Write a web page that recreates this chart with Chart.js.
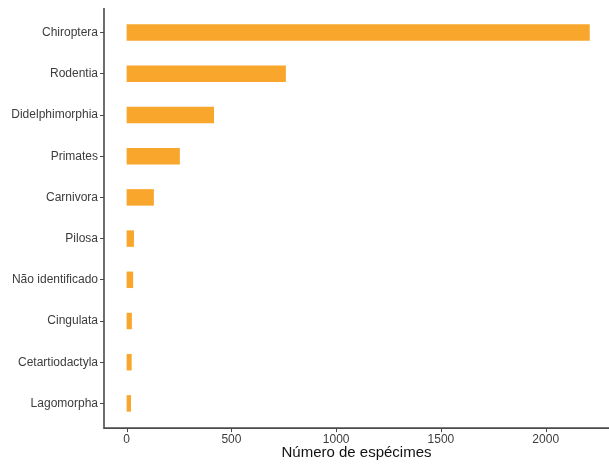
<!DOCTYPE html>
<html>
<head>
<meta charset="utf-8">
<script src="https://cdn.jsdelivr.net/npm/chart.js@4/dist/chart.umd.min.js"></script>
<style>
  html, body { margin: 0; padding: 0; background: #fff; }
  #wrap { width: 609px; height: 464px; }
</style>
</head>
<body>
<div id="wrap"><canvas id="myChart"></canvas></div>
<script>
// Dados
const categories = [
  "Chiroptera",
  "Rodentia",
  "Didelphimorphia",
  "Primates",
  "Carnivora",
  "Pilosa",
  "Não identificado",
  "Cingulata",
  "Cetartiodactyla",
  "Lagomorpha",
];
const specimens = [2210, 760, 417, 254, 130, 35, 31, 25, 24, 21];
const tickValues = [0, 500, 1000, 1500, 2000];
const axisTitle = "Número de espécimes";

const axisColor = "#4a4a4a";
const textColor = "#3c3c3c";

// Linhas dos eixos (como no ggplot, um pouco além das categorias)
const axisLines = {
  id: "axisLines",
  afterDraw(chart) {
    const { ctx, chartArea } = chart;
    const y = chart.scales.y;
    const x = chart.scales.x;
    const step = y.getPixelForTick(1) - y.getPixelForTick(0);
    const ext = Math.abs(step) * 0.1;
    const top = chartArea.top - ext;
    const bottom = chartArea.bottom + ext;

    ctx.save();
    ctx.strokeStyle = axisColor;
    ctx.lineWidth = 1.6;
    ctx.beginPath();
    ctx.moveTo(chartArea.left, top);
    ctx.lineTo(chartArea.left, bottom);
    ctx.lineTo(chartArea.right, bottom);
    ctx.stroke();

    // marcas do eixo x
    ctx.lineWidth = 1;
    tickValues.forEach((v) => {
      const px = Math.round(x.getPixelForValue(v)) + 0.5;
      ctx.beginPath();
      ctx.moveTo(px, bottom);
      ctx.lineTo(px, bottom + 4);
      ctx.stroke();
    });
    ctx.restore();
  },
};

const ctx = document.getElementById("myChart").getContext("2d");
new Chart(ctx, {
  type: "bar",
  data: {
    labels: categories,
    datasets: [
      {
        data: specimens,
        backgroundColor: "#F9A62D",
        borderWidth: 0,
        categoryPercentage: 1,
        barPercentage: 0.4,
      },
    ],
  },
  options: {
    indexAxis: "y",
    responsive: true,
    maintainAspectRatio: false,
    animation: false,
    layout: { padding: { left: 10, top: 12, right: 0, bottom: 0 } },
    plugins: {
      legend: { display: false },
      tooltip: { enabled: false },
    },
    scales: {
      y: {
        offset: true,
        grid: {
          offset: false,
          drawOnChartArea: false,
          drawTicks: true,
          tickLength: 4,
          color: axisColor,
        },
        border: { display: false },
        ticks: {
          padding: 2,
          color: textColor,
          font: { family: "Liberation Sans", size: 12 },
        },
        afterFit(scale) {
          scale.width = 94;
        },
      },
      x: {
        min: -108,
        max: 2302,
        grid: { display: false, drawTicks: false },
        border: { display: false },
        afterBuildTicks(scale) {
          scale.ticks = tickValues.map((v) => ({ value: v }));
        },
        ticks: {
          padding: 8,
          maxRotation: 0,
          color: textColor,
          font: { family: "Liberation Sans", size: 12 },
          callback: (value) => String(value),
        },
        title: {
          display: true,
          text: axisTitle,
          color: "#111",
          font: { family: "Liberation Sans", size: 15 },
          padding: { top: 0, bottom: 2 },
        },
        afterFit(scale) {
          scale.height = 40;
        },
      },
    },
  },
  plugins: [axisLines],
});
</script>
</body>
</html>
